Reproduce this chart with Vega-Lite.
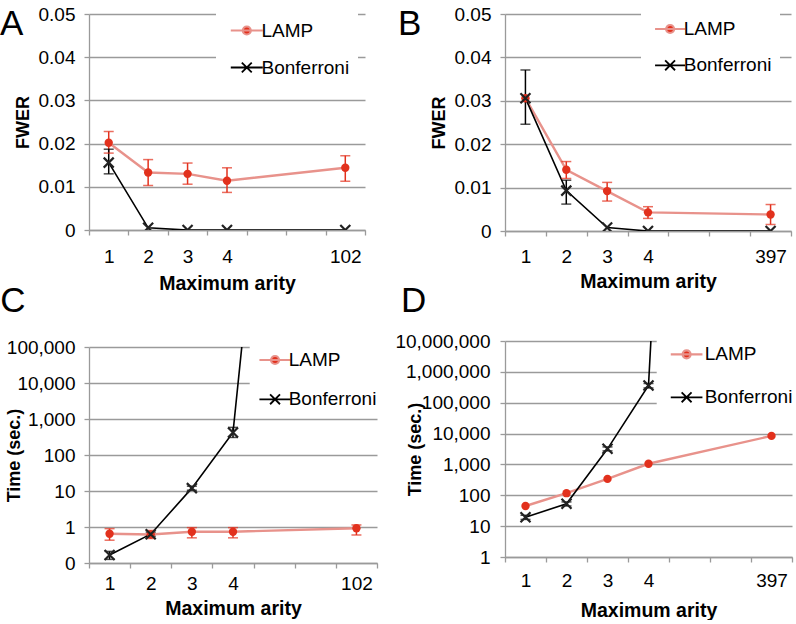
{
  "$schema": "https://vega.github.io/schema/vega-lite/v6.json",
  "padding": {"left": 0, "top": 5, "right": 0, "bottom": 0},
  "config": {
    "view": {"stroke": null},
    "font": "Liberation Sans",
    "axis": {
      "domainColor": "#9a9a9a", "tickColor": "#9a9a9a", "gridColor": "#9a9a9a",
      "domainWidth": 1.3, "tickWidth": 1.3, "gridWidth": 1.3,
      "labelFont": "Liberation Sans", "labelFontSize": 19, "labelColor": "#000",
      "titleFont": "Liberation Sans", "titleFontWeight": "bold", "titleColor": "#000",
      "tickSize": 5
    },
    "axisX": {"titleFontSize": 19.5},
    "axisY": {"titleFontSize": 18},
    "legend": {
      "labelFont": "Liberation Sans", "labelFontSize": 19, "labelColor": "#000"
    },
    "title": {"font": "Liberation Sans", "fontSize": 35, "fontWeight": "normal", "color": "#000", "anchor": "start", "frame": "bounds"}
  },
  "data": {"values": [
    {"panel": "A", "method": "LAMP", "arity": "1", "value": 0.0202, "lo": 0.0178, "hi": 0.0228},
    {"panel": "A", "method": "LAMP", "arity": "2", "value": 0.0133, "lo": 0.0103, "hi": 0.0163},
    {"panel": "A", "method": "LAMP", "arity": "3", "value": 0.0130, "lo": 0.0106, "hi": 0.0155},
    {"panel": "A", "method": "LAMP", "arity": "4", "value": 0.0114, "lo": 0.0087, "hi": 0.0144},
    {"panel": "A", "method": "LAMP", "arity": "102", "value": 0.0144, "lo": 0.0113, "hi": 0.0172},
    {"panel": "A", "method": "Bonferroni", "arity": "1", "value": 0.0156, "lo": 0.0130, "hi": 0.0187},
    {"panel": "A", "method": "Bonferroni", "arity": "2", "value": 0.0005, "lo": null, "hi": null},
    {"panel": "A", "method": "Bonferroni", "arity": "3", "value": 0, "lo": null, "hi": null},
    {"panel": "A", "method": "Bonferroni", "arity": "4", "value": 0, "lo": null, "hi": null},
    {"panel": "A", "method": "Bonferroni", "arity": "102", "value": 0, "lo": null, "hi": null},
    {"panel": "B", "method": "LAMP", "arity": "1", "value": 0.0306, "lo": null, "hi": null},
    {"panel": "B", "method": "LAMP", "arity": "2", "value": 0.0141, "lo": 0.0121, "hi": 0.0160},
    {"panel": "B", "method": "LAMP", "arity": "3", "value": 0.0092, "lo": 0.0069, "hi": 0.0112},
    {"panel": "B", "method": "LAMP", "arity": "4", "value": 0.0043, "lo": 0.0029, "hi": 0.0056},
    {"panel": "B", "method": "LAMP", "arity": "397", "value": 0.0038, "lo": 0.0015, "hi": 0.0061},
    {"panel": "B", "method": "Bonferroni", "arity": "1", "value": 0.0306, "lo": 0.0246, "hi": 0.0371},
    {"panel": "B", "method": "Bonferroni", "arity": "2", "value": 0.0093, "lo": 0.0062, "hi": 0.0117},
    {"panel": "B", "method": "Bonferroni", "arity": "3", "value": 0.0008, "lo": null, "hi": null},
    {"panel": "B", "method": "Bonferroni", "arity": "4", "value": 0, "lo": null, "hi": null},
    {"panel": "B", "method": "Bonferroni", "arity": "397", "value": 0, "lo": null, "hi": null},
    {"panel": "C", "method": "LAMP", "arity": "1", "value": 0.65, "lo": 0.43, "hi": 0.9},
    {"panel": "C", "method": "LAMP", "arity": "2", "value": 0.62, "lo": 0.48, "hi": 0.8},
    {"panel": "C", "method": "LAMP", "arity": "3", "value": 0.74, "lo": 0.5, "hi": 0.96},
    {"panel": "C", "method": "LAMP", "arity": "4", "value": 0.74, "lo": 0.5, "hi": 0.96},
    {"panel": "C", "method": "LAMP", "arity": "102", "value": 0.92, "lo": 0.6, "hi": 1.14},
    {"panel": "C", "method": "Bonferroni", "arity": "1", "value": 0.166, "lo": 0.126, "hi": 0.21},
    {"panel": "C", "method": "Bonferroni", "arity": "2", "value": 0.63, "lo": 0.55, "hi": 0.72},
    {"panel": "C", "method": "Bonferroni", "arity": "3", "value": 12, "lo": 10.5, "hi": 13.6},
    {"panel": "C", "method": "Bonferroni", "arity": "4", "value": 424, "lo": 307, "hi": 585},
    {"panel": "C", "method": "Bonferroni", "arity": "102", "value": 1e36, "lo": null, "hi": null},
    {"panel": "D", "method": "LAMP", "arity": "1", "value": 45, "lo": null, "hi": null},
    {"panel": "D", "method": "LAMP", "arity": "2", "value": 117, "lo": null, "hi": null},
    {"panel": "D", "method": "LAMP", "arity": "3", "value": 340, "lo": null, "hi": null},
    {"panel": "D", "method": "LAMP", "arity": "4", "value": 1050, "lo": null, "hi": null},
    {"panel": "D", "method": "LAMP", "arity": "397", "value": 8400, "lo": null, "hi": null},
    {"panel": "D", "method": "Bonferroni", "arity": "1", "value": 19.5, "lo": 16.5, "hi": 22.5},
    {"panel": "D", "method": "Bonferroni", "arity": "2", "value": 53, "lo": 45, "hi": 61},
    {"panel": "D", "method": "Bonferroni", "arity": "3", "value": 3200, "lo": 2750, "hi": 3700},
    {"panel": "D", "method": "Bonferroni", "arity": "4", "value": 360000, "lo": 300000, "hi": 420000},
    {"panel": "D", "method": "Bonferroni", "arity": "397", "value": 1e80, "lo": null, "hi": null}
  ]},
  "spacing": 9,
  "resolve": {"scale": {"color": "independent"}, "legend": {"color": "independent"}},
  "hconcat": [
    {"vconcat": [
      {
        "title": {"text": "A", "offset": -37, "dx": -14},
        "width": 276, "height": 216,
        "transform": [{"filter": "datum.panel === 'A'"}],
        "encoding": {"x": {"field": "arity", "type": "ordinal", "bandPosition": 0.5,
          "scale": {"type": "band", "domain": ["1","2","3","4"," ","  ","102"], "paddingInner": 0, "paddingOuter": 0},
          "axis": {"tickBand": "extent", "labelAngle": 0, "labelPadding": 12, "titlePadding": 8, "grid": false}, "title": "Maximum arity"}},
        "layer": [
          {"mark": {"type": "line", "clip": true},
           "encoding": {
             "y": {"field": "value", "type": "quantitative", "scale": {"domain": [0, 0.05]}, "title": "FWER",
               "axis": {"values": [0, 0.01, 0.02, 0.03, 0.04, 0.05], "labelExpr": "datum.value === 0 ? '0' : format(datum.value, '.2f')", "labelPadding": 9, "titlePadding": 6, "grid": true}},
             "color": {"field": "method", "type": "nominal", "scale": {"domain": ["LAMP", "Bonferroni"], "range": ["#e8928b", "#000000"]},
               "legend": {"orient": "none", "legendX": 127, "legendY": -1, "title": null, "fillColor": "white", "padding": 8,
                 "symbolSize": 256, "symbolStrokeWidth": 1.5, "labelOffset": 18.5, "rowPadding": 17,
                 "encode": {"symbols": {"update": {
                   "shape": {"signal": "datum.value === 'LAMP' ? 'M-0.34,0L3.66,0M1.16,0A0.5,0.5,0,1,0,2.16,0A0.5,0.5,0,1,0,1.16,0Z' : 'M-0.34,0L3.66,0M1.04,-0.62L2.28,0.62M1.04,0.62L2.28,-0.62'"},
                   "fill": {"signal": "datum.value === 'LAMP' ? '#e2311d' : 'transparent'"},
                   "stroke": {"signal": "datum.value === 'LAMP' ? '#e8928b' : '#000000'"},
                   "strokeWidth": {"signal": "datum.value === 'LAMP' ? 2.2 : 1.8"}}}}}},
             "strokeWidth": {"condition": {"test": "datum.method === 'LAMP'", "value": 2.4}, "value": 1.6}
           }},
          {"transform": [{"filter": "isValid(datum.lo)"}],
           "mark": {"type": "rule", "strokeWidth": 1.5},
           "encoding": {"y": {"field": "lo", "type": "quantitative", "title": "FWER"}, "y2": {"field": "hi"},
             "color": {"condition": {"test": "datum.method === 'LAMP'", "value": "#e2311d"}, "value": "#000000"}}},
          {"transform": [{"filter": "isValid(datum.lo)"}],
           "mark": {"type": "tick", "size": 10, "thickness": 1.5},
           "encoding": {"y": {"field": "lo", "type": "quantitative", "title": "FWER"},
             "color": {"condition": {"test": "datum.method === 'LAMP'", "value": "#e2311d"}, "value": "#000000"}}},
          {"transform": [{"filter": "isValid(datum.hi)"}],
           "mark": {"type": "tick", "size": 10, "thickness": 1.5},
           "encoding": {"y": {"field": "hi", "type": "quantitative", "title": "FWER"},
             "color": {"condition": {"test": "datum.method === 'LAMP'", "value": "#e2311d"}, "value": "#000000"}}},
          {"transform": [{"filter": "datum.method === 'LAMP'"}],
           "mark": {"type": "point", "shape": "circle", "filled": true, "size": 70, "opacity": 1, "color": "#e2311d", "clip": true},
           "encoding": {"y": {"field": "value", "type": "quantitative", "title": "FWER"}}},
          {"transform": [{"filter": "datum.method === 'Bonferroni'"}],
           "mark": {"type": "point", "shape": "M-1,-1L1,1M-1,1L1,-1", "filled": false, "size": 100, "opacity": 1, "color": "#222222", "strokeWidth": 2.2, "clip": true},
           "encoding": {"y": {"field": "value", "type": "quantitative", "title": "FWER"}}}
        ]
      },
      {
        "title": {"text": "C", "offset": 19, "dx": -5},
        "width": 288, "height": 216,
        "transform": [{"filter": "datum.panel === 'C'"}],
        "encoding": {"x": {"field": "arity", "type": "ordinal", "bandPosition": 0.5,
          "scale": {"type": "band", "domain": ["1","2","3","4"," ","  ","102"], "paddingInner": 0, "paddingOuter": 0},
          "axis": {"tickBand": "extent", "labelAngle": 0, "labelPadding": 6, "titlePadding": 6, "grid": false}, "title": "Maximum arity"}},
        "layer": [
          {"mark": {"type": "line", "clip": true},
           "encoding": {
             "y": {"field": "value", "type": "quantitative", "scale": {"type": "log", "domain": [0.1, 100000]}, "title": "Time  (sec.)",
               "axis": {"values": [0.1, 1, 10, 100, 1000, 10000, 100000], "format": ",.0f", "labelPadding": 9, "titlePadding": -17, "grid": true}},
             "color": {"field": "method", "type": "nominal", "scale": {"domain": ["LAMP", "Bonferroni"], "range": ["#e8928b", "#000000"]},
               "legend": {"orient": "none", "legendX": 160.7, "legendY": -4.5, "title": null, "fillColor": "white", "padding": 8,
                 "symbolSize": 256, "symbolStrokeWidth": 1.5, "labelOffset": 12, "rowPadding": 19.3,
                 "encode": {"symbols": {"update": {
                   "shape": {"signal": "datum.value === 'LAMP' ? 'M-0.97,0L2.93,0M0.48,0A0.5,0.5,0,1,0,1.48,0A0.5,0.5,0,1,0,0.48,0Z' : 'M-0.97,0L2.93,0M0.36,-0.62L1.6,0.62M0.36,0.62L1.6,-0.62'"},
                   "fill": {"signal": "datum.value === 'LAMP' ? '#e2311d' : 'transparent'"},
                   "stroke": {"signal": "datum.value === 'LAMP' ? '#e8928b' : '#000000'"},
                   "strokeWidth": {"signal": "datum.value === 'LAMP' ? 2.2 : 1.8"}}}}}},
             "strokeWidth": {"condition": {"test": "datum.method === 'LAMP'", "value": 2.4}, "value": 1.6}
           }},
          {"transform": [{"filter": "isValid(datum.lo)"}],
           "mark": {"type": "rule", "strokeWidth": 1.5},
           "encoding": {"y": {"field": "lo", "type": "quantitative", "title": "Time  (sec.)"}, "y2": {"field": "hi"},
             "color": {"condition": {"test": "datum.method === 'LAMP'", "value": "#e2311d"}, "value": "#000000"}}},
          {"transform": [{"filter": "isValid(datum.lo)"}],
           "mark": {"type": "tick", "size": 10, "thickness": 1.5},
           "encoding": {"y": {"field": "lo", "type": "quantitative", "title": "Time  (sec.)"},
             "color": {"condition": {"test": "datum.method === 'LAMP'", "value": "#e2311d"}, "value": "#000000"}}},
          {"transform": [{"filter": "isValid(datum.hi)"}],
           "mark": {"type": "tick", "size": 10, "thickness": 1.5},
           "encoding": {"y": {"field": "hi", "type": "quantitative", "title": "Time  (sec.)"},
             "color": {"condition": {"test": "datum.method === 'LAMP'", "value": "#e2311d"}, "value": "#000000"}}},
          {"transform": [{"filter": "datum.method === 'LAMP'"}],
           "mark": {"type": "point", "shape": "circle", "filled": true, "size": 70, "opacity": 1, "color": "#e2311d", "clip": true},
           "encoding": {"y": {"field": "value", "type": "quantitative", "title": "Time  (sec.)"}}},
          {"transform": [{"filter": "datum.method === 'Bonferroni'"}],
           "mark": {"type": "point", "shape": "M-1,-1L1,1M-1,1L1,-1", "filled": false, "size": 100, "opacity": 1, "color": "#222222", "strokeWidth": 2.2, "clip": true},
           "encoding": {"y": {"field": "value", "type": "quantitative", "title": "Time  (sec.)"}}}
        ]
      }
    ], "spacing": -9, "resolve": {"scale": {"color": "independent"}, "legend": {"color": "independent"}}},
    {"vconcat": [
      {
        "title": {"text": "B", "offset": -37, "dx": -32},
        "width": 286, "height": 217,
        "transform": [{"filter": "datum.panel === 'B'"}],
        "encoding": {"x": {"field": "arity", "type": "ordinal", "bandPosition": 0.5,
          "scale": {"type": "band", "domain": ["1","2","3","4"," ","  ","397"], "paddingInner": 0, "paddingOuter": 0},
          "axis": {"tickBand": "extent", "labelAngle": 0, "labelPadding": 11, "titlePadding": 6, "grid": false}, "title": "Maximum arity"}},
        "layer": [
          {"mark": {"type": "line", "clip": true},
           "encoding": {
             "y": {"field": "value", "type": "quantitative", "scale": {"domain": [0, 0.05]}, "title": "FWER",
               "axis": {"values": [0, 0.01, 0.02, 0.03, 0.04, 0.05], "labelExpr": "datum.value === 0 ? '0' : format(datum.value, '.2f')", "labelPadding": 9, "titlePadding": 6, "grid": true}},
             "color": {"field": "method", "type": "nominal", "scale": {"domain": ["LAMP", "Bonferroni"], "range": ["#e8928b", "#000000"]},
               "legend": {"orient": "none", "legendX": 136, "legendY": -2.5, "title": null, "fillColor": "white", "padding": 8,
                 "symbolSize": 256, "symbolStrokeWidth": 1.5, "labelOffset": 15.8, "rowPadding": 16.3,
                 "encode": {"symbols": {"update": {
                   "shape": {"signal": "datum.value === 'LAMP' ? 'M-0.43,0L3.32,0M0.95,0A0.5,0.5,0,1,0,1.95,0A0.5,0.5,0,1,0,0.95,0Z' : 'M-0.43,0L3.32,0M0.83,-0.62L2.07,0.62M0.83,0.62L2.07,-0.62'"},
                   "fill": {"signal": "datum.value === 'LAMP' ? '#e2311d' : 'transparent'"},
                   "stroke": {"signal": "datum.value === 'LAMP' ? '#e8928b' : '#000000'"},
                   "strokeWidth": {"signal": "datum.value === 'LAMP' ? 2.2 : 1.8"}}}}}},
             "strokeWidth": {"condition": {"test": "datum.method === 'LAMP'", "value": 2.4}, "value": 1.6}
           }},
          {"transform": [{"filter": "isValid(datum.lo)"}],
           "mark": {"type": "rule", "strokeWidth": 1.5},
           "encoding": {"y": {"field": "lo", "type": "quantitative", "title": "FWER"}, "y2": {"field": "hi"},
             "color": {"condition": {"test": "datum.method === 'LAMP'", "value": "#e2311d"}, "value": "#000000"}}},
          {"transform": [{"filter": "isValid(datum.lo)"}],
           "mark": {"type": "tick", "size": 10, "thickness": 1.5},
           "encoding": {"y": {"field": "lo", "type": "quantitative", "title": "FWER"},
             "color": {"condition": {"test": "datum.method === 'LAMP'", "value": "#e2311d"}, "value": "#000000"}}},
          {"transform": [{"filter": "isValid(datum.hi)"}],
           "mark": {"type": "tick", "size": 10, "thickness": 1.5},
           "encoding": {"y": {"field": "hi", "type": "quantitative", "title": "FWER"},
             "color": {"condition": {"test": "datum.method === 'LAMP'", "value": "#e2311d"}, "value": "#000000"}}},
          {"transform": [{"filter": "datum.method === 'LAMP'"}],
           "mark": {"type": "point", "shape": "circle", "filled": true, "size": 70, "opacity": 1, "color": "#e2311d", "clip": true},
           "encoding": {"y": {"field": "value", "type": "quantitative", "title": "FWER"}}},
          {"transform": [{"filter": "datum.method === 'Bonferroni'"}],
           "mark": {"type": "point", "shape": "M-1,-1L1,1M-1,1L1,-1", "filled": false, "size": 100, "opacity": 1, "color": "#222222", "strokeWidth": 2.2, "clip": true},
           "encoding": {"y": {"field": "value", "type": "quantitative", "title": "FWER"}}}
        ]
      },
      {
        "title": {"text": "D", "offset": 12.7, "dx": 6},
        "width": 287, "height": 216,
        "transform": [{"filter": "datum.panel === 'D'"}],
        "encoding": {"x": {"field": "arity", "type": "ordinal", "bandPosition": 0.5,
          "scale": {"type": "band", "domain": ["1","2","3","4"," ","  ","397"], "paddingInner": 0, "paddingOuter": 0},
          "axis": {"tickBand": "extent", "labelAngle": 0, "labelPadding": 9, "titlePadding": 11, "grid": false}, "title": "Maximum arity"}},
        "layer": [
          {"mark": {"type": "line", "clip": true},
           "encoding": {
             "y": {"field": "value", "type": "quantitative", "scale": {"type": "log", "domain": [1, 10000000]}, "title": "Time  (sec.)",
               "axis": {"values": [1, 10, 100, 1000, 10000, 100000, 1000000, 10000000], "format": ",.0f", "labelPadding": 10, "titlePadding": -30, "grid": true}},
             "color": {"field": "method", "type": "nominal", "scale": {"domain": ["LAMP", "Bonferroni"], "range": ["#e8928b", "#000000"]},
               "legend": {"orient": "none", "legendX": 151.7, "legendY": -4.2, "title": null, "fillColor": "white", "padding": 8,
                 "symbolSize": 256, "symbolStrokeWidth": 1.5, "labelOffset": 21, "rowPadding": 23,
                 "encode": {"symbols": {"update": {
                   "shape": {"signal": "datum.value === 'LAMP' ? 'M-0.43,0L3.53,0M1.05,0A0.5,0.5,0,1,0,2.05,0A0.5,0.5,0,1,0,1.05,0Z' : 'M-0.43,0L3.53,0M0.93,-0.62L2.17,0.62M0.93,0.62L2.17,-0.62'"},
                   "fill": {"signal": "datum.value === 'LAMP' ? '#e2311d' : 'transparent'"},
                   "stroke": {"signal": "datum.value === 'LAMP' ? '#e8928b' : '#000000'"},
                   "strokeWidth": {"signal": "datum.value === 'LAMP' ? 2.2 : 1.8"}}}}}},
             "strokeWidth": {"condition": {"test": "datum.method === 'LAMP'", "value": 2.4}, "value": 1.6}
           }},
          {"transform": [{"filter": "isValid(datum.lo)"}],
           "mark": {"type": "rule", "strokeWidth": 1.5},
           "encoding": {"y": {"field": "lo", "type": "quantitative", "title": "Time  (sec.)"}, "y2": {"field": "hi"},
             "color": {"condition": {"test": "datum.method === 'LAMP'", "value": "#e2311d"}, "value": "#000000"}}},
          {"transform": [{"filter": "isValid(datum.lo)"}],
           "mark": {"type": "tick", "size": 10, "thickness": 1.5},
           "encoding": {"y": {"field": "lo", "type": "quantitative", "title": "Time  (sec.)"},
             "color": {"condition": {"test": "datum.method === 'LAMP'", "value": "#e2311d"}, "value": "#000000"}}},
          {"transform": [{"filter": "isValid(datum.hi)"}],
           "mark": {"type": "tick", "size": 10, "thickness": 1.5},
           "encoding": {"y": {"field": "hi", "type": "quantitative", "title": "Time  (sec.)"},
             "color": {"condition": {"test": "datum.method === 'LAMP'", "value": "#e2311d"}, "value": "#000000"}}},
          {"transform": [{"filter": "datum.method === 'LAMP'"}],
           "mark": {"type": "point", "shape": "circle", "filled": true, "size": 70, "opacity": 1, "color": "#e2311d", "clip": true},
           "encoding": {"y": {"field": "value", "type": "quantitative", "title": "Time  (sec.)"}}},
          {"transform": [{"filter": "datum.method === 'Bonferroni'"}],
           "mark": {"type": "point", "shape": "M-1,-1L1,1M-1,1L1,-1", "filled": false, "size": 100, "opacity": 1, "color": "#222222", "strokeWidth": 2.2, "clip": true},
           "encoding": {"y": {"field": "value", "type": "quantitative", "title": "Time  (sec.)"}}}
        ]
      }
    ], "spacing": -7, "resolve": {"scale": {"color": "independent"}, "legend": {"color": "independent"}}}
  ]
}
